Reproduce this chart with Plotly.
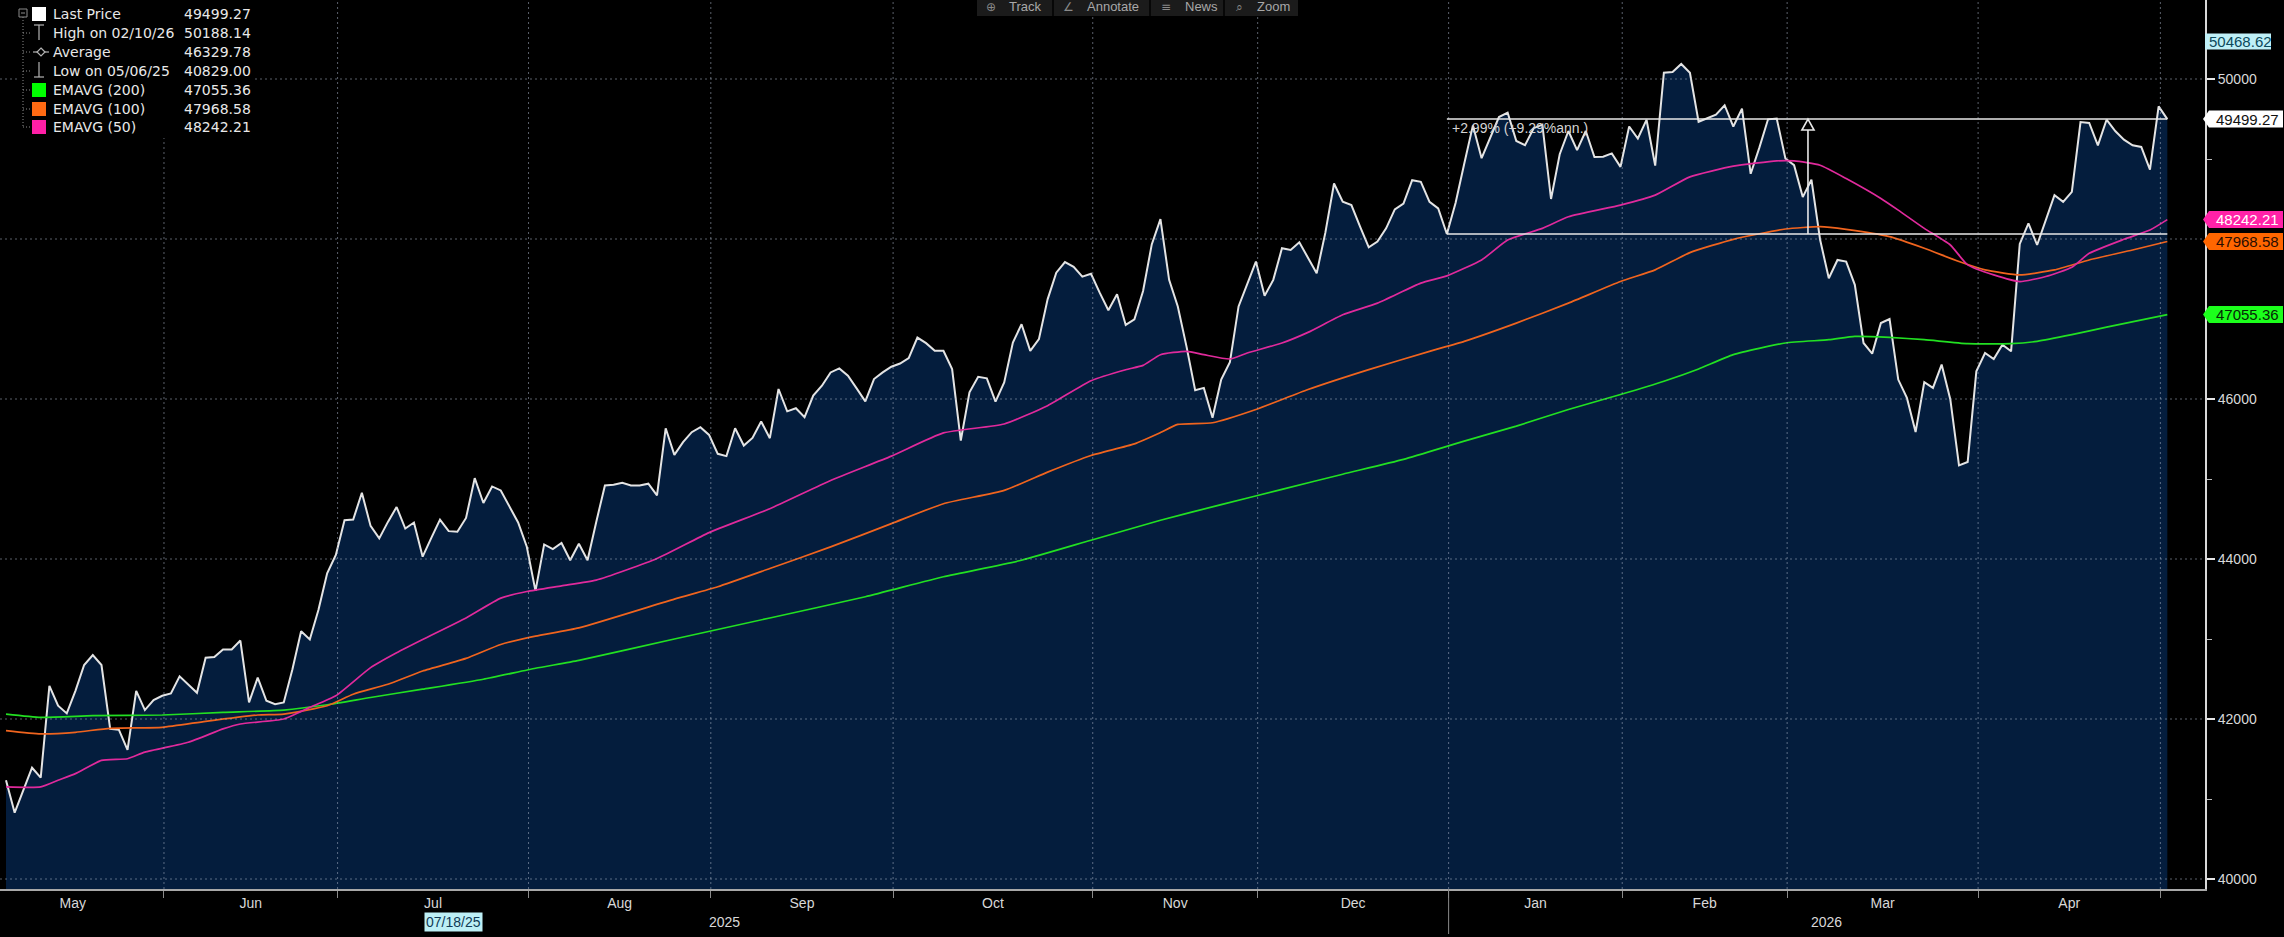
import numpy as np
import pandas as pd
import plotly.graph_objects as go

# ---------------- data ----------------
holidays = ['2025-05-26', '2025-06-19', '2025-07-04', '2025-09-01', '2025-11-27',
            '2025-12-25', '2026-01-01', '2026-01-19', '2026-02-16', '2026-04-03']
first_date = '2025-05-05'

price = [
    41234, 40829.00, 41110, 41391, 41267, 42414, 42166, 42070, 42352, 42675,
    42799, 42675, 41876, 41867, 41615, 42352, 42112, 42236, 42290, 42319,
    42534, 42435, 42327, 42766, 42774, 42870, 42870, 42981, 42207, 42518,
    42228, 42186, 42207, 42621, 43097, 42994, 43366, 43822, 44050, 44484,
    44493, 44828, 44414, 44257, 44464, 44650, 44381, 44456, 44029, 44265,
    44493, 44348, 44340, 44513, 45010, 44700, 44907, 44857, 44663, 44456,
    44153, 43602, 44182, 44124, 44200, 43985, 44190, 43985, 44463, 44920,
    44928, 44953, 44920, 44920, 44941, 44795, 45634, 45302, 45460, 45585,
    45647, 45551, 45315, 45286, 45634, 45418, 45514, 45718, 45510, 46125,
    45846, 45884, 45772, 46042, 46166, 46332, 46382, 46291, 46133, 45971,
    46249, 46332, 46403, 46444, 46511, 46768, 46698, 46602, 46602, 46374,
    45481, 46083, 46278, 46258, 45967, 46208, 46706, 46935, 46602, 46748,
    47246, 47579, 47711, 47653, 47529, 47566, 47329, 47109, 47309, 46926,
    46997, 47350, 47932, 48249, 47489, 47157, 46658, 46110, 46139, 45765,
    46243, 46459, 47157, 47448, 47718, 47290, 47489, 47884, 47863, 47958,
    47759, 47572, 48079, 48694, 48465, 48424, 48154, 47896, 47967, 48133,
    48370, 48444, 48735, 48714, 48465, 48382, 48062, 48450, 48940, 49420,
    49010, 49260, 49525, 49580, 49225, 49173, 49385, 49430, 48500, 49060,
    49350, 49110, 49350, 49025, 49028, 49070, 48902, 49406, 49256, 49490,
    48918, 50078, 50087, 50188.14, 50078, 49465, 49512, 49554, 49672, 49406,
    49630, 48815, 49142, 49496, 49506, 49007, 48923, 48524, 48741, 47990,
    47510, 47738, 47718, 47427, 46700, 46567, 46949, 46999, 46243, 46014,
    45587, 46210, 46139, 46430, 45994, 45171, 45213, 46347, 46575, 46500,
    46679, 46596, 47938, 48195, 47925, 48237, 48548, 48465, 48590, 49462,
    49450, 49171, 49491, 49350, 49242, 49171, 49151, 48868, 49657, 49499.27,
]

ema200_x = [0, 4, 10, 18, 25, 32, 37, 42, 48, 55, 61, 66, 77, 88, 99, 108, 117, 125, 133, 140,
            147, 154, 161, 168, 174, 180, 186, 191, 195, 199, 205, 210, 213, 217, 221, 226, 231, 234,
            238, 242, 249]
ema200_y = [42062, 42021, 42041, 42050, 42083, 42112, 42178, 42269, 42373, 42497, 42634, 42733,
            43000, 43263, 43528, 43778, 43985, 44235, 44484, 44680, 44870, 45060, 45246, 45474,
            45661, 45869, 46056, 46222, 46376, 46554, 46700, 46741, 46783, 46770, 46741, 46691,
            46691, 46721, 46804, 46899, 47055.36]

ema100_x = [0, 4, 8, 12, 18, 23, 29, 32, 37, 40, 44, 48, 53, 57, 61, 66, 77, 82, 88, 95,
            102, 108, 115, 120, 125, 130, 133, 135, 139, 144, 150, 157, 164, 168, 174, 180, 186, 190,
            194, 199, 205, 209, 212, 217, 221, 225, 228, 232, 236, 240, 245, 249]
ema100_y = [41855, 41814, 41834, 41884, 41896, 41971, 42050, 42062, 42166, 42310, 42435, 42600,
            42758, 42932, 43035, 43139, 43499, 43653, 43881, 44151, 44442, 44691, 44858, 45086,
            45294, 45439, 45580, 45682, 45703, 45869, 46118, 46367, 46596, 46721, 46949, 47198,
            47468, 47614, 47830, 47996, 48125, 48154, 48120, 48029, 47884, 47718, 47614, 47551,
            47614, 47738, 47863, 47968.58]

ema50_x = [0, 4, 6, 8, 11, 14, 16, 21, 25, 27, 32, 35, 38, 42, 45, 48, 53, 57, 60, 64,
           68, 75, 81, 88, 95, 102, 108, 115, 120, 125, 129, 131, 133, 136, 138, 141, 143, 147,
           150, 154, 158, 163, 166, 170, 173, 177, 180, 186, 190, 194, 199, 204, 206, 209, 212,
           216, 218, 221, 224, 226, 229, 232, 235, 238, 240, 244, 247, 249]
ema50_y = [41151, 41151, 41234, 41317, 41482, 41503, 41586, 41710, 41876, 41938, 42000, 42145,
           42290, 42642, 42828, 42994, 43263, 43511, 43594, 43665, 43736, 44006, 44330, 44629,
           44982, 45286, 45576, 45688, 45917, 46228, 46366, 46420, 46554, 46596, 46554, 46500,
           46575, 46700, 46833, 47053, 47198, 47448, 47539, 47738, 47988, 48133, 48278, 48424,
           48548, 48777, 48910, 48976, 48976, 48922, 48756, 48507, 48361, 48133, 47925, 47676,
           47551, 47468, 47531, 47647, 47821, 47996, 48112, 48242.21]

avg_value = 46329.78
crosshair_value = 50468.62
crosshair_date = '07/18/25'
measure_text = '+2.99% (+9.29%ann.)'
measure_start = 166          # index of 12/31/25
measure_arrow_x = 207.6

y_ticks = [40000, 42000, 44000, 46000, 48000, 50000]
y_ticktext = ['40000', '42000', '44000', '46000', '', '50000']   # 48000 sits under the EMA tag
y_minor = [41000, 43000, 45000, 47000, 49000]

# ---------------- trading-day axis ----------------
all_days = pd.bdate_range('2025-04-01', '2026-06-30', freq='C', holidays=holidays)
start = list(all_days).index(pd.Timestamp(first_date))
pos = np.arange(len(all_days)) - start
dates = all_days[start:start + len(price)]
x = np.arange(len(price))

months = pd.period_range('2025-05', '2026-05', freq='M')
bound = {}
for m in months:
    idx = pos[(all_days.year == m.year) & (all_days.month == m.month)][0]
    bound[m] = idx - 0.8
month_lbl, month_ctr = [], []
for m in months[:-1]:
    month_lbl.append(m.strftime('%b'))
    month_ctr.append((bound[m] + bound[m + 1]) / 2)
boundaries = [bound[m] for m in months[1:]]
jan_b = bound[pd.Period('2026-01', 'M')]

# ---------------- geometry ----------------
W, H = 2284, 937
PW, PH = 2205, 889
px_day, x_first = 8.68, 6
x0 = -x_first / px_day
x1 = (PW - x_first) / px_day
y_top, y_bot = 50987.5, 39875
UPP = (y_top - y_bot) / PH      # value units per pixel


def fx(p):
    return p / PW


def fy(p):
    return 1 - p / PH


FILL = '#041d3d'
GRID = 'rgba(165,175,195,0.55)'
TXT = '#d8d8d8'
C200, C100, C50 = '#22e022', '#f0641e', '#e02a9c'

fig = go.Figure()
fig.add_trace(go.Scatter(x=x, y=price, mode='lines', fill='tozeroy', fillcolor=FILL,
                         line=dict(color='#e4e4e4', width=2), name='Last Price'))
for ex, ey, col, nm in [(ema200_x, ema200_y, C200, 'EMAVG (200)'),
                        (ema100_x, ema100_y, C100, 'EMAVG (100)'),
                        (ema50_x, ema50_y, C50, 'EMAVG (50)')]:
    fig.add_trace(go.Scatter(x=ex, y=ey, mode='lines', name=nm,
                             line=dict(color=col, width=1.7, shape='spline', smoothing=0.5)))

shapes, anns = [], []

# dotted grid on top of the fill
for v in y_ticks:
    shapes.append(dict(type='line', xref='paper', yref='y', x0=0, x1=1, y0=v, y1=v,
                       line=dict(color=GRID, width=1, dash='2px,3px'), layer='above'))
for b in boundaries:
    shapes.append(dict(type='line', xref='x', yref='paper', x0=b, x1=b, y0=0, y1=1,
                       line=dict(color=GRID, width=1, dash='2px,3px'), layer='above'))

# measurement tool
base_v, last_v = price[measure_start], price[-1]
for v in (base_v, last_v):
    shapes.append(dict(type='line', xref='x', yref='y', x0=measure_start, x1=len(price) - 1,
                       y0=v, y1=v, line=dict(color='#e8e8e8', width=1.6), layer='above'))
head_h = 11 * UPP
shapes.append(dict(type='line', xref='x', yref='y', x0=measure_arrow_x, x1=measure_arrow_x,
                   y0=base_v, y1=last_v - head_h, line=dict(color='#e8e8e8', width=1.6),
                   layer='above'))
hw = 0.7
shapes.append(dict(type='path', xref='x', yref='y',
                   path=f'M {measure_arrow_x - hw} {last_v - head_h} L {measure_arrow_x + hw} '
                        f'{last_v - head_h} L {measure_arrow_x} {last_v} Z',
                   line=dict(color='#e8e8e8', width=1.6), fillcolor='rgba(0,0,0,0)', layer='above'))
anns.append(dict(x=measure_start, y=last_v - 9 * UPP, xref='x', yref='y', xanchor='left',
                 yanchor='middle', xshift=3, text=measure_text, showarrow=False,
                 font=dict(family='Liberation Sans', size=14, color='#d4d4d4')))

# year row
anns.append(dict(x=(x0 + jan_b) / 2, y=fy(922), xref='x', yref='paper', text='2025',
                 yanchor='middle', showarrow=False,
                 font=dict(family='Liberation Sans', size=14, color=TXT)))
anns.append(dict(x=(jan_b + x1) / 2, y=fy(922), xref='x', yref='paper', text='2026',
                 yanchor='middle', showarrow=False,
                 font=dict(family='Liberation Sans', size=14, color=TXT)))
shapes.append(dict(type='line', xref='x', yref='paper', x0=jan_b, x1=jan_b, y0=0, y1=fy(934),
                   line=dict(color='#8a8a8a', width=1)))
cross_idx = list(dates.strftime('%m/%d/%y')).index(crosshair_date)
anns.append(dict(x=cross_idx + 0.5, y=fy(922), xref='x', yref='paper', text=crosshair_date,
                 yanchor='middle', showarrow=False, bgcolor='#bdeff6', borderpad=1,
                 font=dict(family='Liberation Sans', size=14, color='#103a55')))

# right-side value tags (box + left-pointing tip, text on top)
tags = [(price[-1], '#ffffff', '#111111'),
        (ema50_y[-1], '#ff22a8', '#ffffff'),
        (ema100_y[-1], '#ff6600', '#2a0d00'),
        (ema200_y[-1], '#1cff1c', '#062806')]
hh = 8.5 * UPP
for v, bg, fc in tags:
    shapes.append(dict(type='path', xref='paper', yref='y',
                       path=f'M {fx(2203)} {v} L {fx(2209)} {v + hh} L {fx(2283)} {v + hh} '
                            f'L {fx(2283)} {v - hh} L {fx(2209)} {v - hh} Z',
                       fillcolor=bg, line=dict(width=0), layer='above'))
    anns.append(dict(x=fx(2214), y=v, xref='paper', yref='y', xanchor='left', yanchor='middle',
                     text=f'{v:.2f}', showarrow=False,
                     font=dict(family='Liberation Sans', size=15, color=fc)))
shapes.append(dict(type='rect', xref='paper', yref='y', x0=fx(2205), x1=fx(2271),
                   y0=crosshair_value - 8 * UPP, y1=crosshair_value + 8 * UPP,
                   fillcolor='#bff0f7', line=dict(width=0), layer='above'))
anns.append(dict(x=fx(2207), y=crosshair_value, xref='paper', yref='y', xanchor='left',
                 yanchor='middle', text=f'{crosshair_value:.2f}', showarrow=False,
                 font=dict(family='Liberation Sans', size=15, color='#0c4a5c')))

# legend box (top-left)
shapes.append(dict(type='rect', xref='paper', yref='paper', x0=fx(17), x1=fx(255), y0=fy(138),
                   y1=fy(0), fillcolor='#000000', line=dict(width=0), layer='above'))
TREE = '#8a8a8a'
shapes.append(dict(type='rect', xref='paper', yref='paper', x0=fx(19), x1=fx(27), y0=fy(17),
                   y1=fy(9), line=dict(color=TREE, width=1), fillcolor='#000', layer='above'))
shapes.append(dict(type='line', xref='paper', yref='paper', x0=fx(21), x1=fx(25), y0=fy(13),
                   y1=fy(13), line=dict(color=TREE, width=1), layer='above'))
shapes.append(dict(type='line', xref='paper', yref='paper', x0=fx(23), x1=fx(23), y0=fy(17),
                   y1=fy(127), line=dict(color=TREE, width=1, dash='1px,2px'), layer='above'))
rows = [14, 33, 52, 71, 90, 109, 127]
for r in rows[1:]:
    shapes.append(dict(type='line', xref='paper', yref='paper', x0=fx(23), x1=fx(31), y0=fy(r),
                       y1=fy(r), line=dict(color=TREE, width=1, dash='1px,2px'), layer='above'))
for r, col in [(rows[0], '#ffffff'), (rows[4], '#00ff00'), (rows[5], '#ff6a13'),
               (rows[6], '#ff1fa6')]:
    shapes.append(dict(type='rect', xref='paper', yref='paper', x0=fx(32), x1=fx(46),
                       y0=fy(r + 7), y1=fy(r - 7), fillcolor=col, line=dict(width=0),
                       layer='above'))
SYM = '#b4b4b4'
sym_lines = [((34, 25), (44, 25)), ((39, 25), (39, 40)),
             ((33, 52), (49, 52)),
             ((39, 62), (39, 77)), ((34, 77), (44, 77))]
for (a, b), (c, d) in sym_lines:
    shapes.append(dict(type='line', xref='paper', yref='paper', x0=fx(a), x1=fx(c), y0=fy(b),
                       y1=fy(d), line=dict(color=SYM, width=1.2), layer='above'))
shapes.append(dict(type='path', xref='paper', yref='paper',
                   path=f'M {fx(41)} {fy(48)} L {fx(45)} {fy(52)} L {fx(41)} {fy(56)} '
                        f'L {fx(37)} {fy(52)} Z',
                   fillcolor='#000', line=dict(color=SYM, width=1.2), layer='above'))
legend_rows = [('Last Price', price[-1]),
               (f"High on {dates[int(np.argmax(price))].strftime('%m/%d/%y')}", max(price)),
               ('Average', avg_value),
               (f"Low on {dates[int(np.argmin(price))].strftime('%m/%d/%y')}", min(price)),
               ('EMAVG (200)', ema200_y[-1]),
               ('EMAVG (100)', ema100_y[-1]),
               ('EMAVG (50)', ema50_y[-1])]
for r, (lbl, val) in zip(rows, legend_rows):
    anns.append(dict(x=fx(51), y=fy(r), xref='paper', yref='paper', xanchor='left',
                     yanchor='middle', text=lbl, showarrow=False,
                     font=dict(family='DejaVu Sans', size=14, color='#e8e8e8')))
    anns.append(dict(x=fx(182), y=fy(r), xref='paper', yref='paper', xanchor='left',
                     yanchor='middle', text=f'{val:.2f}', showarrow=False,
                     font=dict(family='DejaVu Sans', size=14, color='#e8e8e8')))

# toolbar at the top centre
shapes.append(dict(type='rect', xref='paper', yref='paper', x0=fx(977), x1=fx(1298),
                   y0=fy(16), y1=fy(-2), fillcolor='#1b1b1b', line=dict(width=0), layer='above'))
for sx in (1053, 1150, 1224):
    shapes.append(dict(type='line', xref='paper', yref='paper', x0=fx(sx), x1=fx(sx), y0=fy(16),
                       y1=fy(0), line=dict(color='#070707', width=2), layer='above'))
for icon, ix, label, lx in [('⊕', 991, 'Track', 1007), ('∠', 1068, 'Annotate', 1085),
                            ('≡', 1166, 'News', 1183), ('⌕', 1239, 'Zoom', 1255)]:
    anns.append(dict(x=fx(ix), y=fy(7), xref='paper', yref='paper', xanchor='center',
                     yanchor='middle', text=icon, showarrow=False,
                     font=dict(family='DejaVu Sans', size=12, color='#8a8a8a')))
    anns.append(dict(x=fx(lx), y=fy(7), xref='paper', yref='paper', xanchor='left',
                     yanchor='middle', text=label, showarrow=False,
                     font=dict(family='Liberation Sans', size=13, color='#a8a8a8')))

fig.update_layout(
    width=W, height=H, autosize=False,
    margin=dict(l=0, r=W - PW, t=0, b=H - PH, pad=0),
    paper_bgcolor='#000000', plot_bgcolor='#000000', showlegend=False,
    shapes=shapes, annotations=anns,
    xaxis=dict(range=[x0, x1], tickmode='array', tickvals=month_ctr, ticktext=month_lbl,
               ticks='', showgrid=False, zeroline=False, showline=True, linecolor='#a8a8a8',
               linewidth=2, tickangle=0,
               tickfont=dict(family='Liberation Sans', size=14, color=TXT),
               minor=dict(tickmode='array', tickvals=boundaries, ticks='outside', ticklen=7,
                          tickcolor='#8a8a8a', tickwidth=1, showgrid=False)),
    yaxis=dict(range=[y_bot, y_top], side='right', tickmode='array', tickvals=y_ticks,
               ticktext=y_ticktext, ticks='outside', ticklen=8, tickwidth=2,
               tickcolor='#e6e6e6', showgrid=False, zeroline=False, showline=True,
               linecolor='#d8d8d8', linewidth=2,
               tickfont=dict(family='Liberation Sans', size=14, color=TXT),
               minor=dict(tickmode='array', tickvals=y_minor, ticks='outside', ticklen=5,
                          tickcolor='#bbbbbb', tickwidth=1, showgrid=False)),
)

fig.write_html('out.html', config={'displayModeBar': False},
               post_script="document.body.style.margin='0px';"
                           "document.body.style.overflow='hidden';"
                           "document.body.style.background='#000000';")
